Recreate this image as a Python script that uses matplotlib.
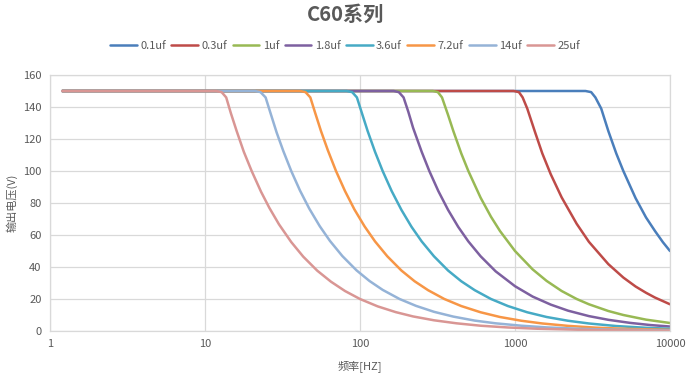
import matplotlib
matplotlib.use("Agg")
import matplotlib.pyplot as plt
from matplotlib.ticker import FixedLocator, FixedFormatter, NullLocator

plt.rcParams['font.family'] = ['Noto Sans CJK SC', 'DejaVu Sans']

# data (frequency in Hz, output voltage in V)
labels = ["0.1uf", "0.3uf", "1uf", "1.8uf", "3.6uf", "7.2uf", "14uf", "25uf"]
colors = ["#4a7ebb", "#be4b48", "#98b954", "#7d60a0", "#46aac5", "#f79646", "#95b3d7", "#d99694"]

f_01 = [1.2, 2850, 3100, 3300, 3600, 4000, 4500, 5000, 6000, 7000, 8000, 9000, 10000]
v_01 = [150, 150, 149.3, 146, 139, 125, 111, 100, 83, 71, 62.5, 55.5, 50]

f_03 = [1.2, 980, 1060, 1120, 1200, 1350, 1500, 1700, 2000, 2500, 3000, 4000, 5000, 6000, 7000, 8000, 10000]
v_03 = [150, 150, 149.3, 146, 139, 124, 111, 98, 83.5, 67, 55.7, 41.8, 33.4, 27.8, 23.9, 20.9, 16.7]

f_1 = [1.2, 295, 318, 338, 370, 400, 450, 500, 600, 700, 800, 1000, 1300, 1600, 2000, 2500, 3000, 4000, 5000, 7000, 10000]
v_1 = [150, 150, 149.3, 146, 135, 125, 111, 100, 83.3, 71.4, 62.5, 50, 38.5, 31.3, 25, 20, 16.7, 12.5, 10, 7.1, 5]

f_18 = [1.2, 165, 178, 191, 205, 220, 250, 280, 320, 370, 430, 500, 600, 750, 1000, 1300, 1700, 2200, 3000, 4000, 5500, 7500, 10000]
v_18 = [150, 150, 149.3, 146, 137, 127, 112, 100, 87.5, 75.7, 65.1, 56, 46.7, 37.3, 28, 21.5, 16.5, 12.7, 9.3, 7, 5.1, 3.7, 2.8]

f_36 = [1.2, 82, 89, 95.5, 103, 112, 125, 140, 160, 185, 215, 250, 300, 370, 450, 550, 700, 900, 1200, 1600, 2200, 3000, 4500, 7000, 10000]
v_36 = [150, 150, 149.3, 146, 136, 125, 112, 100, 87.5, 75.7, 65.1, 56, 46.7, 37.8, 31.1, 25.5, 20, 15.6, 11.7, 8.75, 6.4, 4.7, 3.1, 2, 1.4]

f_72 = [1.2, 41, 44.5, 47.8, 51.5, 56, 62, 70, 80, 92, 107, 125, 150, 185, 225, 275, 350, 450, 600, 800, 1100, 1500, 2200, 3300, 5000, 10000]
v_72 = [150, 150, 149.3, 146, 136, 125, 113, 100, 87.5, 76, 65.4, 56, 46.7, 37.8, 31.1, 25.5, 20, 15.6, 11.7, 8.75, 6.4, 4.7, 3.2, 2.1, 1.4, 0.7]

f_14 = [1.2, 21, 22.8, 24.6, 26.5, 29, 32, 36, 41, 47, 55, 64, 77, 95, 115, 140, 180, 230, 300, 400, 550, 750, 1100, 1600, 2500, 4000, 10000]
v_14 = [150, 150, 149.3, 146, 136, 124, 112.5, 100, 87.8, 76.6, 65.5, 56.3, 46.8, 37.9, 31.3, 25.7, 20, 15.7, 12, 9, 6.5, 4.8, 3.3, 2.25, 1.44, 0.9, 0.36]

f_25 = [1.2, 11.8, 12.8, 13.7, 14.7, 16, 17.8, 20, 23, 26, 30, 36, 43, 53, 65, 80, 100, 130, 170, 220, 300, 420, 600, 900, 1400, 2500, 5000, 10000]
v_25 = [150, 150, 149.3, 146, 136, 125, 112, 100, 87, 77, 66.7, 55.6, 46.5, 37.7, 30.8, 25, 20, 15.4, 11.8, 9.1, 6.7, 4.8, 3.3, 2.2, 1.4, 0.8, 0.4, 0.2]

freqs = [f_01, f_03, f_1, f_18, f_36, f_72, f_14, f_25]
volts = [v_01, v_03, v_1, v_18, v_36, v_72, v_14, v_25]

x_ticks = [1, 10, 100, 1000, 10000]
y_ticks = [0, 20, 40, 60, 80, 100, 120, 140, 160]

text_col = "#595959"
grid_col = "#d9d9d9"

fig = plt.figure(figsize=(6.9, 3.81), dpi=100)
ax = fig.add_axes([50/690, 1-331/381, 620/690, 256/381])

for f, v, lab, c in zip(freqs, volts, labels, colors):
    ax.plot(f, v, color=c, lw=1.8, label=lab, solid_capstyle='round', solid_joinstyle='round')

ax.set_xscale('log')
ax.set_xlim(1, 10000)
ax.set_ylim(0, 160)
ax.xaxis.set_major_locator(FixedLocator(x_ticks))
ax.xaxis.set_major_formatter(FixedFormatter([str(t) for t in x_ticks]))
ax.xaxis.set_minor_locator(NullLocator())
ax.set_yticks(y_ticks)
ax.grid(True, color=grid_col, lw=0.9)
ax.set_axisbelow(True)
for s in ax.spines.values():
    s.set_color(grid_col)
    s.set_linewidth(0.9)
ax.tick_params(length=0, labelsize=8, colors=text_col, pad=6)

ax.set_xlabel("频率[HZ]", fontsize=8, color=text_col, labelpad=8)
ax.set_ylabel("输出电压(V)", fontsize=8, color=text_col, labelpad=4)

fig.text(0.5, 1-14/381, "C60系列", ha='center', va='center', fontsize=14.5,
         fontweight='bold', color=text_col)
fig.legend(loc='center', bbox_to_anchor=(0.5, 1-46/381), ncol=8, frameon=False,
           fontsize=8, handlelength=2.4, handletextpad=0.3, columnspacing=0.5,
           labelcolor=text_col)

fig.savefig("out.png", dpi=100)
